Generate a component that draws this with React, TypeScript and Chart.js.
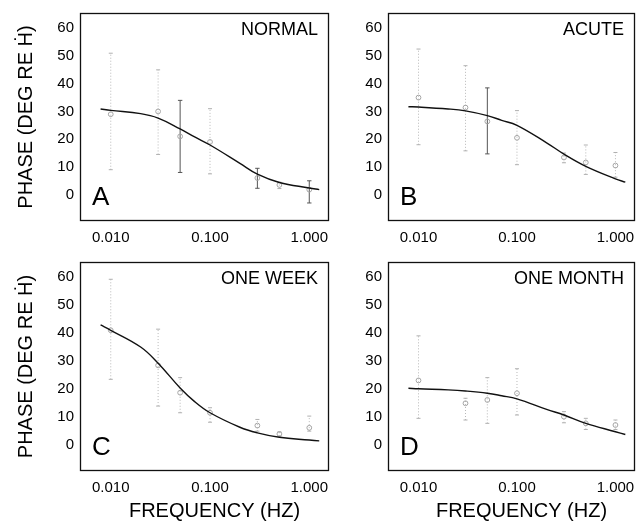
import React, { useEffect, useRef } from "react";
import { Chart, registerables } from "chart.js";

Chart.register(...registerables);

const FONT = '"Liberation Sans", Arial, Helvetica, sans-serif';

// ---------- data ----------
const frequencies = [0.01, 0.03, 0.05, 0.1, 0.3, 0.5, 1.0];
const curveFrequencies = [0.0079, 0.01, 0.02, 0.03, 0.05, 0.07, 0.1, 0.2, 0.3, 0.5, 1.0, 1.26];

const xTickValues = [0.01, 0.1, 1];
const xTickLabels = ["0.010", "0.100", "1.000"];
const yTickValues = [0, 10, 20, 30, 40, 50, 60];

const panelLetters = ["A", "B", "C", "D"];
const panelNames = ["NORMAL", "ACUTE", "ONE WEEK", "ONE MONTH"];
const yAxisTitle = "PHASE (DEG RE \u1E22)";
const xAxisTitle = "FREQUENCY (HZ)";

const normalMean = [29, 30, 21, 19, 6, 3.5, 1.8];
const normalLow = [9, 14.5, 8, 7.5, 2.3, 2.2, -3];
const normalHigh = [51, 45, 34, 31, 9.5, 4.5, 5];
const normalCurve = [30.9, 30.4, 29.2, 27.6, 23.7, 20.8, 17.9, 11.3, 7.4, 4.4, 2.4, 1.8];

const acuteMean = [35, 31.4, 26.4, 20.5, 13.4, 11.6, 10.5];
const acuteLow = [18, 15.8, 14.7, 10.8, 11.5, 7.3, 6.3];
const acuteHigh = [52.5, 46.5, 38.5, 30.3, 15, 17.9, 15.2];
const acuteCurve = [31.7, 31.6, 30.9, 30.2, 28.5, 26.8, 25, 18.7, 14.6, 10.2, 5.7, 4.5];

const weekMean = [41, 28.4, 18.6, 11.4, 6.8, 3.8, 6];
const weekLow = [23.4, 13.8, 11.4, 8, 4.8, 3, 4.8];
const weekHigh = [59.3, 41.4, 24, 13.2, 9, 4.5, 10.2];
const weekCurve = [42.9, 41, 35, 29.2, 20.3, 15.4, 11.4, 6.2, 4.2, 2.6, 1.6, 1.3];

const monthMean = [23, 14.8, 16, 18.4, 10, 7.6, 7];
const monthLow = [9.4, 8.8, 7.6, 10.6, 7.8, 5.4, 5.4];
const monthHigh = [39, 16.6, 24, 27.2, 11.8, 9.4, 8.8];
const monthCurve = [20.2, 20, 19.6, 19.2, 18.4, 17.5, 16.4, 12.6, 10.6, 7.6, 4.6, 3.6];

// frequencies whose error bars are printed solid/dark
const strongBarsA = [0.05, 0.3, 1.0];
const strongBarsB = [0.05];
const strongBarsC: number[] = [];
const strongBarsD: number[] = [];

const panels = [
  { letter: panelLetters[0], name: panelNames[0], mean: normalMean, low: normalLow, high: normalHigh, curve: normalCurve, strong: strongBarsA },
  { letter: panelLetters[1], name: panelNames[1], mean: acuteMean, low: acuteLow, high: acuteHigh, curve: acuteCurve, strong: strongBarsB },
  { letter: panelLetters[2], name: panelNames[2], mean: weekMean, low: weekLow, high: weekHigh, curve: weekCurve, strong: strongBarsC },
  { letter: panelLetters[3], name: panelNames[3], mean: monthMean, low: monthLow, high: monthHigh, curve: monthCurve, strong: strongBarsD },
];

// ---------- layout ----------
const layouts = [
  { left: 0, top: 0, width: 330, height: 260, yWidth: 80, padTop: 13, padRight: 1, xHeight: 39, yTitle: true, xTitle: false },
  { left: 330, top: 0, width: 306, height: 260, yWidth: 58, padTop: 13, padRight: 1, xHeight: 39, yTitle: false, xTitle: false },
  { left: 0, top: 260, width: 330, height: 264, yWidth: 80, padTop: 2, padRight: 1, xHeight: 53, yTitle: true, xTitle: true },
  { left: 330, top: 260, width: 306, height: 264, yWidth: 58, padTop: 2, padRight: 1, xHeight: 53, yTitle: false, xTitle: true },
];

const panelDecor = {
  id: "panelDecor",
  afterDraw(chart: any, _args: any, opts: any) {
    const { ctx } = chart;
    const { left, right, top, bottom } = chart.chartArea;
    const l = Math.round(left) + 0.5;
    const t = Math.round(top) + 0.5;
    const r = Math.round(right) - 0.5;
    const b = Math.round(bottom) - 0.5;
    ctx.save();
    ctx.strokeStyle = "#111";
    ctx.lineWidth = 1.3;
    ctx.strokeRect(l, t, r - l, b - t);
    ctx.fillStyle = "#000";
    ctx.font = `18px ${FONT}`;
    ctx.textAlign = "right";
    ctx.textBaseline = "alphabetic";
    ctx.fillText(opts.name, right - 11, top + 22);
    ctx.font = `26px ${FONT}`;
    ctx.textAlign = "left";
    ctx.fillText(opts.letter, left + 12, bottom - 16);
    if (opts.xTitle) {
      ctx.font = `20px ${FONT}`;
      ctx.textAlign = "center";
      ctx.textBaseline = "middle";
      ctx.fillText(opts.xTitle, (left + right) / 2 + 10, chart.height - 13);
    }
    ctx.restore();
  },
};

function barData(p: any, strong: boolean) {
  const out: any[] = [];
  frequencies.forEach((f, i) => {
    if (p.strong.includes(f) !== strong) return;
    out.push({ x: f, y: p.low[i] });
    out.push({ x: f, y: p.high[i] });
    out.push({ x: f, y: NaN });
  });
  return out;
}

function Panel({ idx }: { idx: number }) {
  const ref = useRef<HTMLCanvasElement | null>(null);
  const p = panels[idx];
  const L = layouts[idx];

  useEffect(() => {
    if (!ref.current) return;
    const chart = new Chart(ref.current, {
      type: "line",
      data: {
        datasets: [
          {
            label: "fit",
            data: curveFrequencies.map((f, i) => ({ x: f, y: p.curve[i] })),
            borderColor: "#111",
            borderWidth: 1.4,
            pointRadius: 0,
            tension: 0.4,
            order: 0,
          },
          {
            label: "mean",
            data: frequencies.map((f, i) => ({ x: f, y: p.mean[i] })),
            showLine: false,
            pointStyle: "circle",
            pointRadius: 2.4,
            pointBorderWidth: 1,
            pointBorderColor: "#a5a5a5",
            pointBackgroundColor: "rgba(255,255,255,0)",
            order: 1,
          },
          {
            label: "sd",
            data: barData(p, false),
            borderColor: "#b8b8b8",
            borderWidth: 1,
            borderDash: [1, 2],
            spanGaps: false,
            pointStyle: "line",
            pointRadius: 2,
            pointBorderWidth: 1,
            pointBorderColor: "#b0b0b0",
            order: 2,
          },
          {
            label: "sd strong",
            data: barData(p, true),
            borderColor: "#555",
            borderWidth: 1,
            spanGaps: false,
            pointStyle: "line",
            pointRadius: 2.2,
            pointBorderWidth: 1,
            pointBorderColor: "#555",
            order: 2,
          },
        ],
      },
      options: {
        responsive: false,
        animation: false,
        events: [],
        layout: { autoPadding: false, padding: { top: L.padTop, right: L.padRight, left: 0, bottom: 0 } },
        plugins: {
          legend: { display: false },
          tooltip: { enabled: false },
          panelDecor: { name: p.name, letter: p.letter, xTitle: L.xTitle ? xAxisTitle : "" },
        } as any,
        scales: {
          x: {
            type: "logarithmic",
            min: 0.0049,
            max: 1.58,
            border: { display: false },
            grid: { display: false, drawTicks: false },
            afterBuildTicks: (axis: any) => {
              axis.ticks = xTickValues.map((v) => ({ value: v }));
            },
            afterFit: (axis: any) => {
              axis.height = L.xHeight;
              axis.paddingLeft = 0;
              axis.paddingRight = 0;
            },
            ticks: {
              autoSkip: false,
              maxRotation: 0,
              padding: 8,
              color: "#000",
              font: { family: FONT, size: 15 },
              callback: (_v: any, i: number) => xTickLabels[i],
            },
          },
          y: {
            type: "linear",
            min: -9.5,
            max: 65.5,
            border: { display: false },
            grid: { display: false, drawTicks: false },
            afterBuildTicks: (axis: any) => {
              axis.ticks = yTickValues.map((v) => ({ value: v }));
            },
            afterFit: (axis: any) => {
              axis.width = L.yWidth;
              axis.paddingTop = 0;
              axis.paddingBottom = 0;
            },
            ticks: {
              padding: 6,
              color: "#000",
              font: { family: FONT, size: 15 },
              callback: (v: any) => String(v),
            },
            title: {
              display: L.yTitle,
              text: yAxisTitle,
              color: "#000",
              font: { family: FONT, size: 20 },
              padding: { top: 14, bottom: 0 },
            },
          },
        },
      } as any,
      plugins: [panelDecor as any],
    });
    return () => chart.destroy();
  }, [idx]);

  return (
    <canvas
      ref={ref}
      width={L.width}
      height={L.height}
      style={{ position: "absolute", left: L.left, top: L.top, width: L.width, height: L.height }}
    />
  );
}

export default function App() {
  return (
    <div style={{ position: "fixed", left: 0, top: 0, width: 636, height: 524, background: "#fff", overflow: "hidden" }}>
      {panels.map((_, i) => (
        <Panel key={i} idx={i} />
      ))}
    </div>
  );
}
